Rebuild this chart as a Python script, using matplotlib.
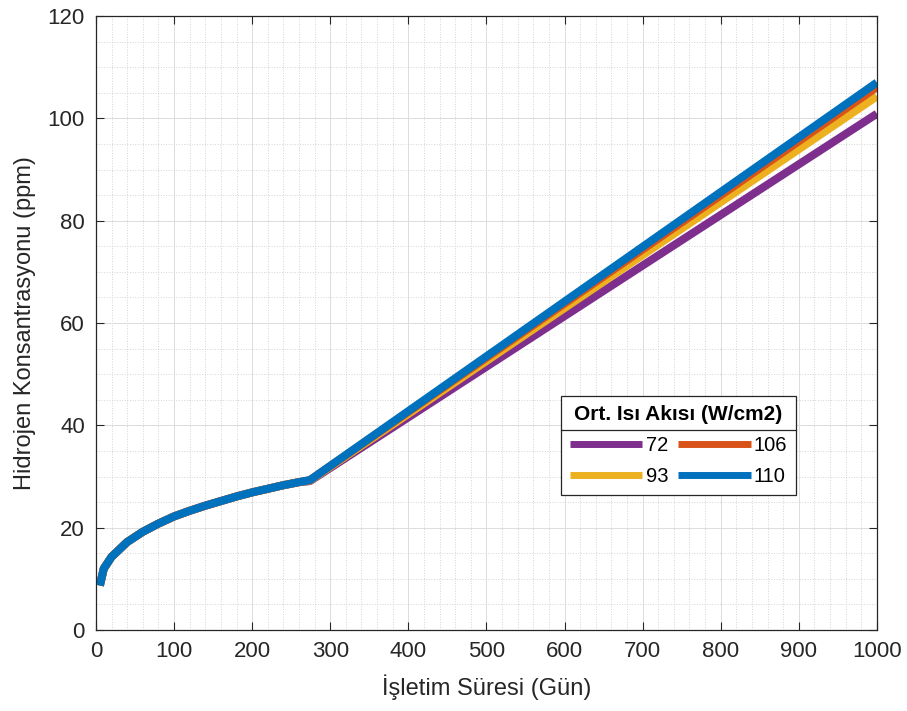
import matplotlib.pyplot as plt
from matplotlib.lines import Line2D
from matplotlib.ticker import MultipleLocator

plt.rcParams['font.family'] = ['Liberation Sans', 'DejaVu Sans']

# days (Gün) and hydrogen concentration (ppm), one list per heat flux
days = [5, 10, 20, 40, 60, 80, 100, 120, 140, 160, 180, 200, 220, 240, 260, 274, 1000]
h_72 = [8.7, 12.0, 14.3, 17.2, 19.2, 20.8, 22.2, 23.3, 24.3, 25.2, 26.1, 26.9, 27.6, 28.3, 28.9, 29.1, 100.9]
h_93 = [8.7, 12.0, 14.3, 17.2, 19.2, 20.8, 22.2, 23.3, 24.3, 25.2, 26.1, 26.9, 27.6, 28.3, 28.9, 29.2, 104.3]
h_106 = [8.7, 12.0, 14.3, 17.2, 19.2, 20.8, 22.2, 23.3, 24.3, 25.2, 26.1, 26.9, 27.6, 28.3, 28.9, 29.3, 106.1]
h_110 = [8.7, 12.0, 14.3, 17.2, 19.2, 20.8, 22.2, 23.3, 24.3, 25.2, 26.1, 26.9, 27.6, 28.3, 28.9, 29.3, 107.0]
labels = ['72', '93', '106', '110']
colours = ['#7E2F8E', '#EDB120', '#D95319', '#0072BD']

fig = plt.figure(figsize=(9.07, 7.11), dpi=100)
ax = fig.add_axes([0.1058, 0.1139, 0.861, 0.8636])

series = [h_72, h_93, h_106, h_110]
handles = []
for ys, c, lab in zip(series, colours, labels):
    ln, = ax.plot(days, ys, color=c, linewidth=5.8, label=lab,
                  solid_capstyle='butt', solid_joinstyle='round')
    handles.append(ln)

ax.set_xlim(0, 1000)
ax.set_ylim(0, 120)
ax.xaxis.set_major_locator(MultipleLocator(100))
ax.xaxis.set_minor_locator(MultipleLocator(20))
ax.yaxis.set_major_locator(MultipleLocator(20))
ax.yaxis.set_minor_locator(MultipleLocator(5))

ax.grid(which='major', color='#dcdcdc', linewidth=0.7, linestyle='-')
ax.grid(which='minor', color='#d4d4d4', linewidth=0.7, linestyle=':')
ax.set_axisbelow(True)

ax.tick_params(which='major', direction='in', length=6, width=0.8, pad=8,
               top=True, right=True, labelsize=16, colors='#262626')
ax.tick_params(which='minor', length=0)
for sp in ax.spines.values():
    sp.set_color('#262626')
    sp.set_linewidth(0.9)

ax.set_xlabel('İşletim Süresi (Gün)', fontsize=17, color='#262626', labelpad=9)
ax.set_ylabel('Hidrojen Konsantrasyonu (ppm)', fontsize=17, color='#262626', labelpad=8)

leg = ax.legend(handles=handles, ncol=2, title='Ort. Isı Akısı (W/cm2)',
                loc='upper left', bbox_to_anchor=(0.5954, 0.3811),
                borderaxespad=0, fontsize=14.5, handlelength=3.6,
                handletextpad=0.15, columnspacing=0.5, labelspacing=0.6,
                borderpad=0.45, fancybox=False, framealpha=1,
                edgecolor='#262626')
leg.get_title().set_fontweight('bold')
leg.get_title().set_fontsize(15)
leg.get_frame().set_linewidth(0.9)
for lh in leg.get_lines():
    lh.set_linewidth(5)

# separator under legend title, midway between title and first row
fig.canvas.draw()
inv = fig.transFigure.inverted()
fb = leg.get_frame().get_window_extent()
tb = leg.get_title().get_window_extent()
rb = leg.get_texts()[0].get_window_extent()
ysep = (tb.y0 + rb.y1) / 2
(x0, y0), (x1, y1) = inv.transform([[fb.x0, ysep], [fb.x1, ysep]])
fig.add_artist(Line2D([x0, x1], [y0, y1], color='#262626', linewidth=0.9))

fig.savefig('out.png', dpi=100)
